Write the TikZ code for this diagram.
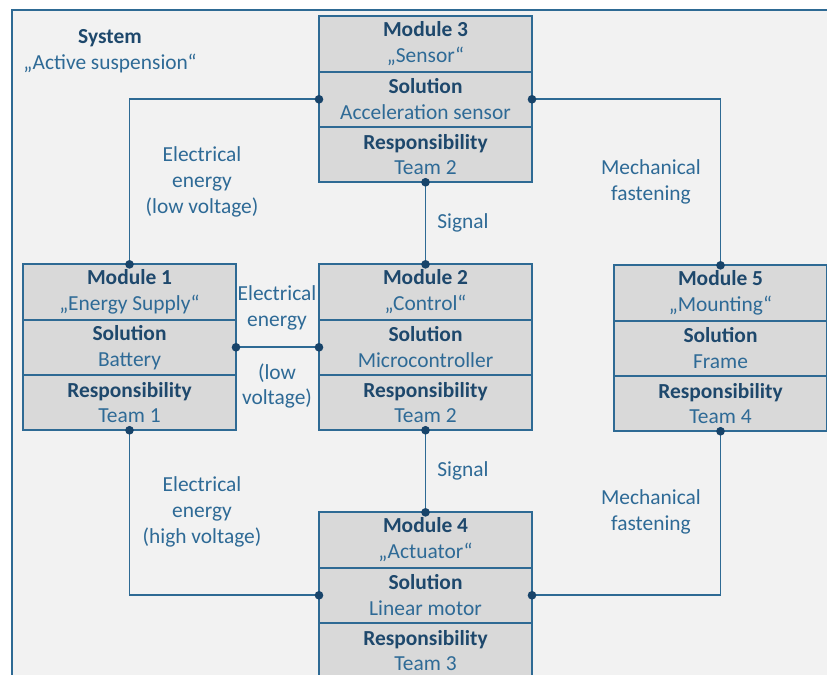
\documentclass[tikz,border=0pt]{standalone}
\usepackage{fontspec}
\setmainfont{Carlito}
\usetikzlibrary{positioning, arrows.meta}
\definecolor{lineblue}{RGB}{46,106,148}
\definecolor{dotblue}{RGB}{24,68,106}
\definecolor{headblue}{RGB}{30,72,108}
\definecolor{textblue}{RGB}{46,106,150}
\definecolor{boxgray}{RGB}{217,217,217}
\definecolor{backgray}{RGB}{242,242,242}
\newcommand{\head}[1]{\textcolor{headblue}{\bfseries #1}}

\begin{document}
\begin{tikzpicture}[x=1bp, y=-1bp,
  every node/.style={font=\fontsize{21.5}{26}\selectfont, text=textblue, align=center},
  part/.style={draw=lineblue, fill=boxgray, line width=1.8bp, minimum width=213bp, minimum height=55.3bp, inner sep=0pt, outer sep=0pt},
  link/.style={draw=lineblue, line width=1.8bp,
    {Circle[length=8.5bp,width=8.5bp,color=dotblue]}-{Circle[length=8.5bp,width=8.5bp,color=dotblue]},
    shorten <=-4.25bp, shorten >=-4.25bp}]
\useasboundingbox (0,0) rectangle (827,675);
\clip (0,0) rectangle (827,675);
\draw[draw=lineblue, fill=backgray, line width=1.8bp] (12,10) rectangle (860,720);

\node (sys) at (110,51) {\head{System}\\„Active suspension“};

% modules
\node[part] (m3a) at (425.5,44) {\head{Module 3}\\„Sensor“};
\node[part, below=0pt of m3a] (m3b) {\head{Solution}\\Acceleration sensor};
\node[part, below=0pt of m3b] (m3c) {\head{Responsibility}\\Team 2};

\node[part] (m1a) at (129.5,292) {\head{Module 1}\\„Energy Supply“};
\node[part, below=0pt of m1a] (m1b) {\head{Solution}\\Battery};
\node[part, below=0pt of m1b] (m1c) {\head{Responsibility}\\Team 1};

\node[part] (m2a) at (425.5,292) {\head{Module 2}\\„Control“};
\node[part, below=0pt of m2a] (m2b) {\head{Solution}\\Microcontroller};
\node[part, below=0pt of m2b] (m2c) {\head{Responsibility}\\Team 2};

\node[part] (m5a) at (720.5,293) {\head{Module 5}\\„Mounting“};
\node[part, below=0pt of m5a] (m5b) {\head{Solution}\\Frame};
\node[part, below=0pt of m5b] (m5c) {\head{Responsibility}\\Team 4};

\node[part] (m4a) at (425.5,540) {\head{Module 4}\\„Actuator“};
\node[part, below=0pt of m4a] (m4b) {\head{Solution}\\Linear motor};
\node[part, below=0pt of m4b] (m4c) {\head{Responsibility}\\Team 3};

% interfaces
\draw[link] (m3b.west) -| (m1a.north);
\draw[link] (m3b.east) -| (m5a.north);
\draw[link] (m3c.south) -- (m2a.north);
\draw[link] (m1b.east) -- (m2b.west);
\draw[link] (m2c.south) -- (m4a.north);
\draw[link] (m1c.south) |- (m4b.west);
\draw[link] (m5c.south) |- (m4b.east);

\node (e31) at (202,182) {Electrical\\energy\\(low voltage)};
\node (f35) at (651,182) {Mechanical\\fastening};
\node (s32) at (463,223) {Signal};
\node (e12) at (277,308) {Electrical\\energy};
\node (v12) at (277,386) {(low\\voltage)};
\node (s24) at (463,471) {Signal};
\node (e14) at (202,512) {Electrical\\energy\\(high voltage)};
\node (f54) at (651,512) {Mechanical\\fastening};
\end{tikzpicture}
\end{document}
